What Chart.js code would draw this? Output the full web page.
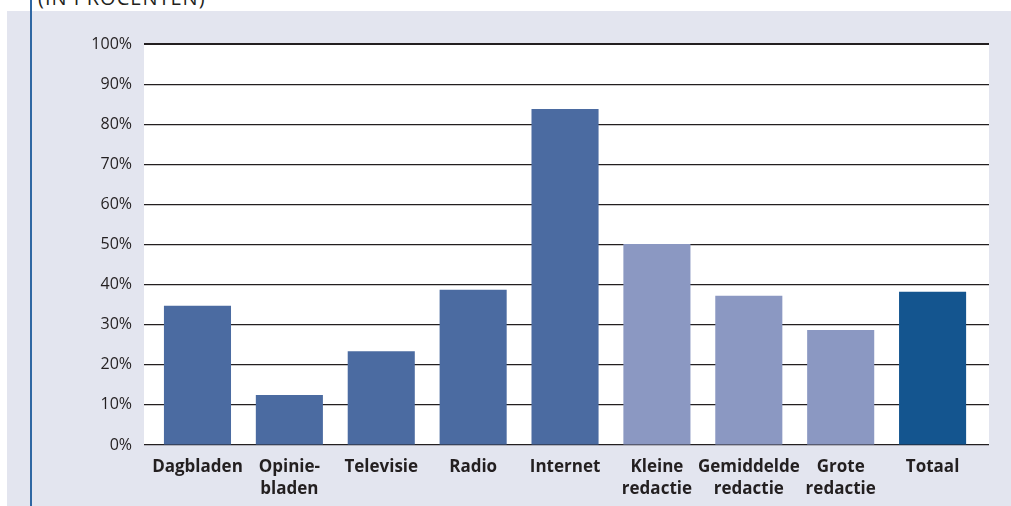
<!DOCTYPE html>
<html lang="nl">
<head>
    <meta charset="UTF-8">
    <title>In procenten</title>
    <script src="https://cdn.jsdelivr.net/npm/chart.js@4.4.0/dist/chart.umd.min.js"></script>
    <style>
        * {
            margin: 0;
            padding: 0;
            box-sizing: border-box;
        }

        body {
            width: 1011px;
            height: 506px;
            background-color: #fff;
            overflow: hidden;
            position: relative;
            font-family: 'Open Sans', sans-serif;
        }

        .title {
            position: absolute;
            left: 38px;
            top: -16px;
            font-size: 20px;
            letter-spacing: 1px;
            color: #231f20;
            white-space: nowrap;
        }

        .panel {
            position: absolute;
            left: 7px;
            top: 11px;
            width: 1004px;
            height: 495px;
            background-color: #e3e5ef;
        }

        .rule {
            position: absolute;
            left: 30px;
            top: 0;
            width: 2px;
            height: 506px;
            background-color: #2f67a3;
        }
    </style>
</head>
<body>
    <div class="title">(IN PROCENTEN)</div>
    <div class="panel">
        <canvas id="barChart" width="1004" height="495"></canvas>
    </div>
    <div class="rule"></div>

    <script>
        // Data
        const categories = [
            'Dagbladen', ['Opinie-', 'bladen'], 'Televisie', 'Radio', 'Internet',
            ['Kleine', 'redactie'], ['Gemiddelde', 'redactie'], ['Grote', 'redactie'], 'Totaal'
        ];
        const values = [34.7, 12.5, 23.4, 38.7, 83.8, 50.1, 37.2, 28.7, 38.2];
        const barColors = [
            '#4b6ba1', '#4b6ba1', '#4b6ba1', '#4b6ba1', '#4b6ba1',
            '#8b98c2', '#8b98c2', '#8b98c2', '#14558f'
        ];
        const yTicks = [0, 10, 20, 30, 40, 50, 60, 70, 80, 90, 100];

        // white plot background
        const plotBackground = {
            id: 'plotBackground',
            beforeDraw(chart) {
                const { ctx, chartArea } = chart;
                ctx.save();
                ctx.fillStyle = '#ffffff';
                ctx.fillRect(chartArea.left, chartArea.top, chartArea.right - chartArea.left, chartArea.bottom - chartArea.top);
                ctx.restore();
            }
        };

        const ctx = document.getElementById('barChart').getContext('2d');
        new Chart(ctx, {
            type: 'bar',
            data: {
                datasets: [{
                    data: values.map((v, i) => ({ x: i, y: v })),
                    backgroundColor: barColors,
                    barPercentage: 0.73,
                    categoryPercentage: 1
                }]
            },
            options: {
                responsive: false,
                animation: false,
                layout: {
                    padding: { left: 0, right: 22, top: 33, bottom: 0 }
                },
                plugins: {
                    legend: { display: false },
                    tooltip: { enabled: false }
                },
                scales: {
                    x: {
                        type: 'linear',
                        offset: false,
                        min: -0.582,
                        max: 8.614,
                        afterBuildTicks(scale) {
                            scale.ticks = categories.map((c, i) => ({ value: i }));
                        },
                        afterFit(scale) {
                            scale.height = 61;
                        },
                        grid: { display: false },
                        border: { display: false },
                        ticks: {
                            autoSkip: false,
                            maxRotation: 0,
                            padding: 4,
                            color: '#231f20',
                            font: { family: 'Open Sans', size: 17, weight: 'bold', lineHeight: 1.25 },
                            callback: (value) => categories[value]
                        }
                    },
                    y: {
                        min: 0,
                        max: 100,
                        afterBuildTicks(scale) {
                            scale.ticks = yTicks.map(v => ({ value: v }));
                        },
                        afterFit(scale) {
                            scale.width = 137;
                        },
                        grid: {
                            color: '#231f20',
                            lineWidth: (c) => (c.tick && c.tick.value === 100 ? 2 : 1.2),
                            drawTicks: false
                        },
                        border: { display: false },
                        ticks: {
                            padding: 12,
                            color: '#231f20',
                            font: { family: 'Open Sans', size: 16 },
                            callback: (value) => value + '%'
                        }
                    }
                }
            },
            plugins: [plotBackground]
        });
    </script>
</body>
</html>
